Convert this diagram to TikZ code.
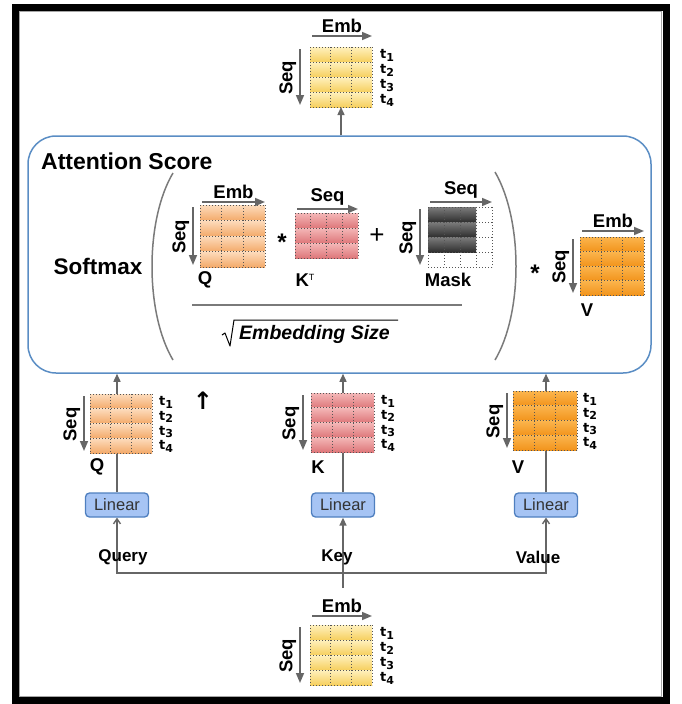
\documentclass[tikz,border=0pt]{standalone}
\usepackage{fontspec}
\setmainfont{Liberation Sans}
\newfontfamily\tfont{DejaVu Sans}
\usetikzlibrary{arrows.meta,fit,calc}

\definecolor{ytop}{HTML}{FFF1BE}
\definecolor{ybot}{HTML}{F6CF5E}
\definecolor{qtop}{HTML}{FDDCBD}
\definecolor{qbot}{HTML}{F3AA6A}
\definecolor{ktop}{HTML}{F4B8B8}
\definecolor{kbot}{HTML}{DE777A}
\definecolor{vtop}{HTML}{FBB54E}
\definecolor{vbot}{HTML}{F2941C}
\definecolor{mtop}{HTML}{7C7C7C}
\definecolor{mbot}{HTML}{2F2F2F}
\definecolor{attblue}{HTML}{5A8DC4}
\definecolor{linfill}{HTML}{A6C4F4}
\definecolor{linborder}{HTML}{4F7FBF}
\definecolor{arrowgray}{HTML}{666666}
\definecolor{gridgray}{HTML}{555555}
\definecolor{parengray}{HTML}{7A7A7A}
\definecolor{textdark}{HTML}{333333}

\tikzset{
  conn/.style={draw=arrowgray, line width=1.4pt, -{Triangle[length=8pt,width=7pt]}},
  thinconn/.style={draw=arrowgray, line width=1.4pt, -{Straight Barb[length=5pt,width=7pt]}},
  axis/.style={draw=arrowgray, line width=1.6pt, -{Triangle[length=10pt,width=8pt]}},
  gridl/.style={draw=gridgray, line width=1pt, dash pattern=on 1pt off 2pt},
  lbl/.style={font=\fontsize{18.5}{18.5}\selectfont\bfseries, inner sep=1pt},
  inlbl/.style={font=\fontsize{17}{17}\selectfont\bfseries, inner sep=1pt},
  op/.style={font=\fontsize{24}{24}\selectfont\bfseries, inner sep=0pt},
  tl/.style={font=\tfont\bfseries\fontsize{13}{13}\selectfont, inner sep=0pt},
  linbox/.style={draw=linborder, fill=linfill, rounded corners=4pt, line width=1.3pt,
    minimum width=63pt, minimum height=24pt, font=\fontsize{16.5}{16.5}\selectfont,
    text=textdark, inner sep=0pt},
  attbox/.style={draw=attblue, line width=1.5pt, rounded corners=28pt, inner sep=0pt},
  paren/.style={draw=parengray, line width=1.5pt},
}

% shaded rows: x1 y1 x2 y2 rows top bottom
\newcommand{\mshade}[7]{%
  \foreach \ri in {1,...,#5}{%
    \shade[top color=#6, bottom color=#7] (#1,{#2+(\ri-1)*(#4-#2)/#5}) rectangle (#3,{#2+\ri*(#4-#2)/#5});
  }%
}
% dotted grid + named node: name x1 y1 x2 y2 rows cols
\newcommand{\mgrid}[7]{%
  \foreach \ri in {0,...,#6}{%
    \draw[gridl] (#2,{#3+\ri*(#5-#3)/#6}) -- (#4,{#3+\ri*(#5-#3)/#6});
  }%
  \foreach \ci in {0,...,#7}{%
    \draw[gridl] ({#2+\ci*(#4-#2)/#7},#3) -- ({#2+\ci*(#4-#2)/#7},#5);
  }%
  \node[inner sep=0pt, outer sep=0pt, fit={(#2,#3)(#4,#5)}] (#1) {};
}
% horizontal axis arrow above a matrix: node offset text labelname
\newcommand{\embax}[4]{%
  \draw[axis] ([xshift=2pt,yshift=#2]#1.north west) -- ([yshift=#2]#1.north east)
    node[midway, above=2pt, lbl] (#4) {#3};
}
% vertical Seq arrow left of a matrix: node offset labelname
\newcommand{\seqax}[3]{%
  \draw[axis] ([xshift=-#2,yshift=-2pt]#1.north west) -- ([xshift=-#2,yshift=2pt]#1.south west)
    node[midway, rotate=90, anchor=south, lbl, inner sep=3pt, xshift=-1pt] (#3) {Seq};
}
% t labels: prefix x y1 y2
\newcommand{\tlab}[4]{%
  \foreach \ti in {1,...,4}{%
    \node[tl, anchor=west] (#1\ti) at (#2,{#3+(\ti-0.5)*(#4-#3)/4+1}) {t\raisebox{-2.5pt}{\fontsize{11}{11}\selectfont\ti}};
  }%
}

\begin{document}
\begin{tikzpicture}[x=1pt,y=-1pt]
\useasboundingbox (0,0) rectangle (681,704);
\draw[line width=7pt] (15,7) rectangle (666,700.5);
\draw[gray!70, line width=1pt] (19,11) rectangle (661.5,696);

% attention score box
\node[attbox, fit={(28,136)(651,373)}] (att) {};
\node[anchor=west, inner sep=0pt, font=\fontsize{23}{23}\selectfont\bfseries] (atttitle) at (41,161) {Attention Score};
\node[font=\fontsize{22.5}{22.5}\selectfont\bfseries, inner sep=0pt] (softmax) at (98,266) {Softmax};

% parentheses and fraction
\draw[paren] (173,173) .. controls (145,220) and (145,313) .. (173,360);
\draw[paren] (495,172) .. controls (523,220) and (523,313) .. (495,360);
\draw[paren] (192,305) -- (462,305);
\node[anchor=west, inner sep=0pt, font=\fontsize{19.5}{19.5}\selectfont\bfseries\itshape] (embsize) at (239,334) {Embedding Size};
\draw[line width=1pt, line join=round] (222,335) -- (225,333) -- (230,346) -- (234,320) -- (398,320);

% linear boxes
\node[linbox] (linq) at (117,505) {Linear};
\node[linbox] (link) at (343,505) {Linear};
\node[linbox] (linv) at (546,505) {Linear};

% connectors into the attention box (under the matrices)
\draw[conn] (linq.north) -- (linq.north |- att.south);
\draw[conn] (link.north) -- (link.north |- att.south);
\draw[conn] (linv.north) -- (linv.north |- att.south);

% input distribution
\coordinate (src) at (343,588);
\coordinate (bus) at (343,573);
\draw[conn] (src) -- (link.south);
\draw[thinconn] (bus) -| (linq.south);
\draw[thinconn] (bus) -| (linv.south);
\node[inlbl] (query) at (123,557) {Query};
\node[inlbl] (key) at (337,557) {Key};
\node[inlbl] (value) at (538,557) {Value};

% top output matrix
\mshade{310}{47}{372}{107}{4}{ytop}{ybot}
\mgrid{out}{310}{47}{372}{107}{4}{3}
\embax{out}{11pt}{Emb}{outemb}
\seqax{out}{10pt}{outseq}
\tlab{outt}{380}{47}{107}
\draw[conn] (att.north -| out.south) -- (out.south);

% bottom input matrix
\mshade{310}{625}{372}{685}{4}{ytop}{ybot}
\mgrid{inp}{310}{625}{372}{685}{4}{3}
\embax{inp}{9pt}{Emb}{inpemb}
\seqax{inp}{10pt}{inpseq}
\tlab{inpt}{380}{625}{685}

% middle row Q K V
\mshade{90}{394}{152}{453}{4}{qtop}{qbot}
\mgrid{qm}{90}{394}{152}{453}{4}{3}
\seqax{qm}{6pt}{qmseq}
\tlab{qmt}{159}{394}{453}
\node[lbl] (qmlab) at (97,467) {Q};

\mshade{311}{393}{374}{452}{4}{ktop}{kbot}
\mgrid{km}{311}{393}{374}{452}{4}{3}
\seqax{km}{8pt}{kmseq}
\tlab{kmt}{381}{393}{452}
\node[lbl] (kmlab) at (318,467) {K};

\mshade{513}{391}{577}{450}{4}{vtop}{vbot}
\mgrid{vm}{513}{391}{577}{450}{4}{3}
\seqax{vm}{6pt}{vmseq}
\tlab{vmt}{583}{391}{450}
\node[lbl] (vmlab) at (518,467) {V};

\node[font=\tfont\bfseries\fontsize{24}{24}\selectfont, inner sep=0pt] (stray) at (203,401) {↑};

% inside attention: Q
\mshade{200}{205}{265}{267}{4}{qtop}{qbot}
\mgrid{qa}{200}{205}{265}{267}{4}{3}
\embax{qa}{3pt}{Emb}{qaemb}
\seqax{qa}{7pt}{qaseq}
\node[lbl] (qalab) at (205,280) {Q};
\node[op] (mul1) at (282,242) {*};

% K^T
\mshade{295}{213}{358}{258}{3}{ktop}{kbot}
\mgrid{kta}{295}{213}{358}{258}{3}{4}
\embax{kta}{4pt}{Seq}{ktaseq}
\node[lbl] (ktalab) at (305,280) {K\raisebox{6pt}{\fontsize{9}{9}\selectfont\mdseries T}};
\node[font=\fontsize{26}{26}\selectfont, inner sep=0pt] (plus) at (377,236) {+};

% Mask
\mshade{428}{207}{476}{252}{3}{mtop}{mbot}
\mgrid{mask}{428}{207}{492}{267}{4}{4}
\embax{mask}{5pt}{Seq}{maskseqh}
\seqax{mask}{8pt}{maskseqv}
\node[lbl] (masklab) at (448,280) {Mask};

\node[op] (mul2) at (535,273) {*};

% V
\mshade{580}{237}{644}{295}{4}{vtop}{vbot}
\mgrid{va}{580}{237}{644}{295}{4}{3}
\embax{va}{6pt}{Emb}{vaemb}
\seqax{va}{7pt}{vaseq}
\node[lbl] (valab) at (587,310) {V};
\end{tikzpicture}
\end{document}
